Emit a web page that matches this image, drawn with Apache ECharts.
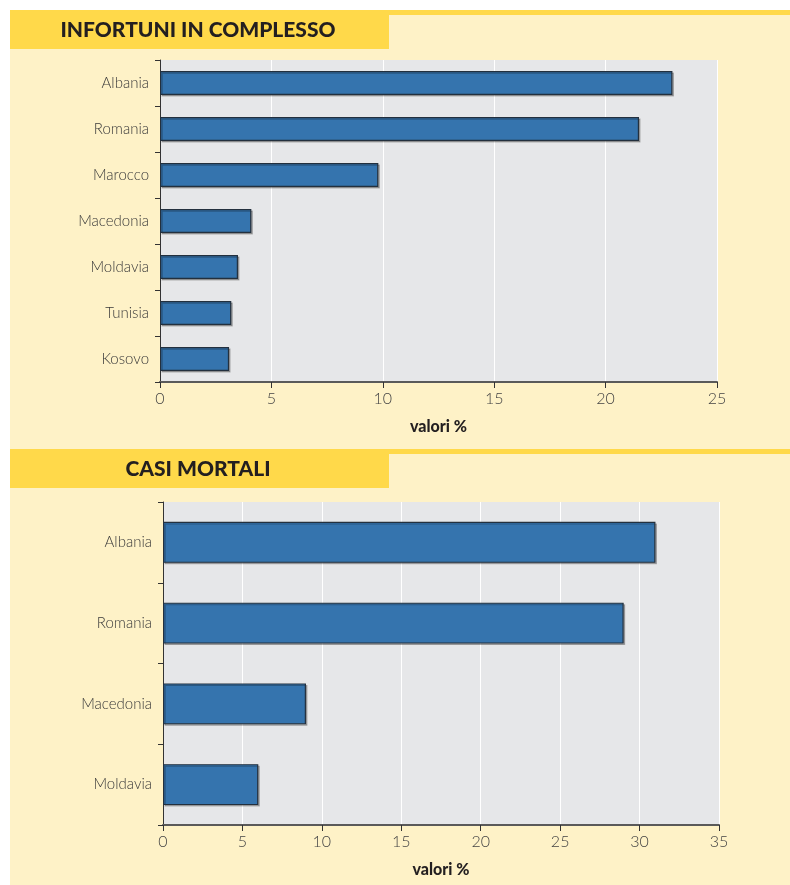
<!DOCTYPE html>
<html>
<head>
<meta charset="utf-8">
<script src="https://cdn.jsdelivr.net/npm/echarts@6/dist/echarts.min.js"></script>
<style>
  html, body { margin: 0; padding: 0; background: #ffffff; }
  #chart { position: absolute; left: 10px; top: 10px; width: 780px; height: 875px; background: #fef2c7; }
</style>
</head>
<body>
<div id="chart"></div>
<script>
// infortuni in complesso
const countriesTot = ["Albania", "Romania", "Marocco", "Macedonia", "Moldavia", "Tunisia", "Kosovo"]
const valuesTot = [23.0, 21.5, 9.8, 4.1, 3.5, 3.2, 3.1]

// casi mortali
const countriesDead = ["Albania", "Romania", "Macedonia", "Moldavia"]
const valuesDead = [31, 29, 9, 6]

const titles = ["INFORTUNI IN COMPLESSO", "CASI MORTALI"]
const axisName = "valori %"

const yellow = "#ffd94a"
const font = "Lato"

function header(y, text) {
  return [
    { type: "rect", shape: { x: 0, y: y, width: 780, height: 5 }, style: { fill: yellow } },
    { type: "rect", shape: { x: 0, y: y, width: 379, height: 39 }, style: { fill: yellow } },
    {
      type: "text", x: 188, y: y + 20,
      style: { text: text, fill: "#231f20", font: "900 21px Lato", textAlign: "center", textVerticalAlign: "middle" }
    }
  ]
}

function xAxis(gridIndex, max) {
  return {
    type: "value", gridIndex: gridIndex, min: 0, max: max, interval: 5,
    name: axisName, nameLocation: "middle", nameGap: 37,
    nameTextStyle: { fontFamily: font, fontWeight: 900, fontSize: 16, color: "#231f20" },
    axisLine: { show: true, lineStyle: { color: "#5a5a5a", width: 2 } },
    axisTick: { show: true, length: 6, lineStyle: { color: "#333", width: 1 } },
    axisLabel: { fontFamily: font, fontWeight: 300, fontSize: 16, color: "#444", margin: 9 },
    splitLine: { show: true, lineStyle: { color: "#ffffff", width: 1 } }
  }
}

function yAxis(gridIndex, data) {
  return {
    type: "category", gridIndex: gridIndex, data: data, inverse: true,
    axisLine: { show: true, lineStyle: { color: "#333", width: 1 } },
    axisTick: { show: true, length: 5, lineStyle: { color: "#333" } },
    axisLabel: { fontFamily: font, fontWeight: 300, fontSize: 15, color: "#3a3a3a", margin: 11 },
    splitLine: { show: false }
  }
}

function barSeries(index, data, width) {
  return {
    type: "bar", xAxisIndex: index, yAxisIndex: index, data: data, barWidth: width,
    itemStyle: {
      color: "#3574ae", borderColor: "#23303e", borderWidth: 1.2,
      shadowColor: "rgba(0,0,0,0.25)", shadowOffsetX: 1.5, shadowOffsetY: 1.5, shadowBlur: 0
    }
  }
}

const chart = echarts.init(document.getElementById("chart"))
chart.setOption({
  animation: false,
  textStyle: { fontFamily: font },
  graphic: { elements: header(0, titles[0]).concat(header(439, titles[1])) },
  grid: [
    { left: 150, top: 50, width: 557, height: 322, show: true, backgroundColor: "#e6e7e9", borderWidth: 0 },
    { left: 153, top: 492, width: 556, height: 323, show: true, backgroundColor: "#e6e7e9", borderWidth: 0 }
  ],
  xAxis: [xAxis(0, 25), xAxis(1, 35)],
  yAxis: [yAxis(0, countriesTot), yAxis(1, countriesDead)],
  series: [barSeries(0, valuesTot, 24), barSeries(1, valuesDead, 41)]
})
</script>
</body>
</html>
